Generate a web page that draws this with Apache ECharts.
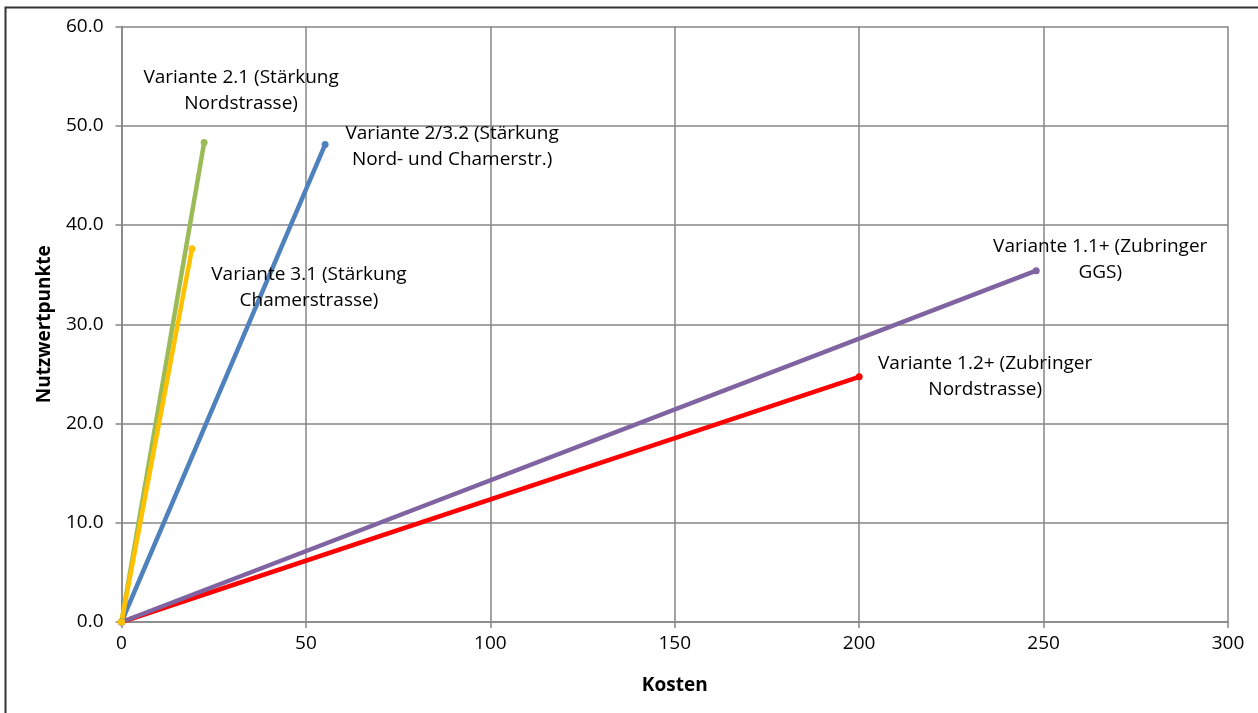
<!DOCTYPE html>
<html>
<head>
<meta charset="utf-8">
<script src="https://cdn.jsdelivr.net/npm/echarts@6/dist/echarts.min.js"></script>
<style>
html,body{margin:0;padding:0;background:#fff;}
#c{width:1258px;height:713px;}
</style>
</head>
<body>
<div id="c"></div>
<script>
const seriesNames = [
  "Variante 2.1 (Stärkung\nNordstrasse)",
  "Variante 2/3.2 (Stärkung\nNord- und Chamerstr.)",
  "Variante 3.1 (Stärkung\nChamerstrasse)",
  "Variante 1.1+ (Zubringer\nGGS)",
  "Variante 1.2+ (Zubringer\nNordstrasse)"
];
const kosten = [22.4, 55.2, 19.1, 248.0, 200.0];
const nutzwert = [48.3, 48.1, 37.6, 35.4, 24.7];
const colors = ["#9BBB59", "#4F81BD", "#FFC000", "#8064A2", "#FF0000"];
const labelOffsets = [[37, -52], [127, 2], [117, 39], [64, -11], [126, 0]];
const xTicks = [0, 50, 100, 150, 200, 250, 300];
const yTicks = [0, 10, 20, 30, 40, 50, 60];

const font = "'Open Sans', Lato, sans-serif";
const order = [4, 3, 1, 0, 2];
const series = order.map(i => ({
  type: 'line',
  name: seriesNames[i],
  data: [[0, 0], {
    value: [kosten[i], nutzwert[i]],
    label: {
      show: true,
      formatter: seriesNames[i],
      position: 'inside',
      offset: labelOffsets[i],
      align: 'center',
      verticalAlign: 'middle',
      color: '#000',
      fontFamily: font,
      fontSize: 19,
      lineHeight: 26
    }
  }],
  symbol: 'circle',
  symbolSize: 7,
  showAllSymbol: true,
  lineStyle: { color: colors[i], width: 4.5 },
  itemStyle: { color: colors[i] },
  z: 3
}));

const chart = echarts.init(document.getElementById('c'), null, { renderer: 'canvas' });
chart.setOption({
  animation: false,
  backgroundColor: '#fff',
  graphic: [{
    type: 'rect',
    shape: { x: 5.5, y: 7.5, width: 1300, height: 800 },
    style: { fill: 'none', stroke: '#333', lineWidth: 2 },
    silent: true,
    z: -1
  }],
  grid: { left: 121.5, right: 30, top: 26.5, bottom: 91, containLabel: false },
  xAxis: {
    type: 'value',
    min: xTicks[0], max: xTicks[xTicks.length - 1], interval: 50,
    name: 'Kosten',
    nameLocation: 'middle',
    nameGap: 54,
    nameTextStyle: { fontFamily: font, fontSize: 19, fontWeight: 'bold', color: '#000' },
    axisLine: { show: true, lineStyle: { color: '#868686', width: 1.5 } },
    axisTick: { show: true, inside: false, length: 6, lineStyle: { color: '#868686', width: 1.5 } },
    axisLabel: { fontFamily: font, fontSize: 19, color: '#000', margin: 12 },
    splitLine: { show: true, lineStyle: { color: '#868686', width: 1.5 } }
  },
  yAxis: {
    type: 'value',
    min: yTicks[0], max: yTicks[yTicks.length - 1], interval: 10,
    name: 'Nutzwertpunkte',
    nameLocation: 'middle',
    nameGap: 67,
    nameTextStyle: { fontFamily: font, fontSize: 19, fontWeight: 'bold', color: '#000' },
    axisLine: { show: true, lineStyle: { color: '#868686', width: 1.5 } },
    axisTick: { show: true, inside: false, length: 6, lineStyle: { color: '#868686', width: 1.5 } },
    axisLabel: { fontFamily: font, fontSize: 19, color: '#000', margin: 18, formatter: v => v.toFixed(1) },
    splitLine: { show: true, lineStyle: { color: '#868686', width: 1.5 } }
  },
  series: series
});
</script>
</body>
</html>
